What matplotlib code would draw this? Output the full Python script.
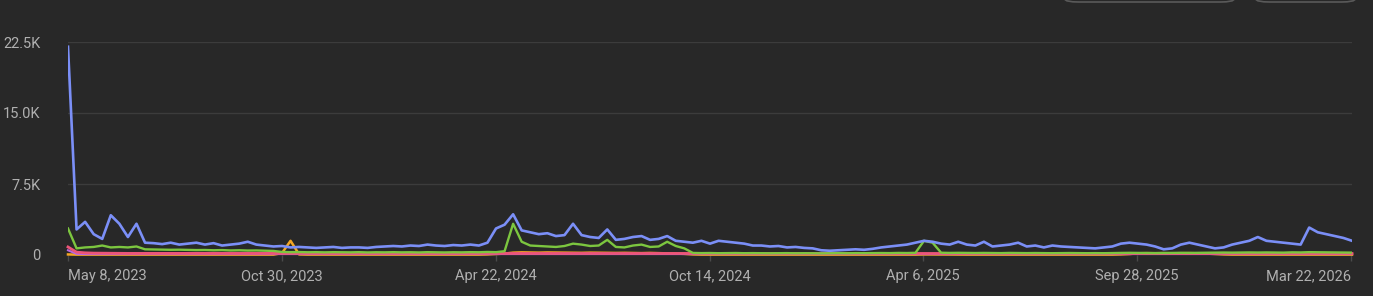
import matplotlib
matplotlib.use("Agg")
import matplotlib.pyplot as plt
from matplotlib.patches import FancyBboxPatch
import pandas as pd

# weekly values (first week = May 8, 2023)
blue = [22000, 2700, 3500, 2200, 1700, 4200, 3300, 1900, 3300, 1300,
        1250, 1150, 1300, 1100, 1200, 1300, 1100, 1250, 1000, 1100,
        1200, 1400, 1100, 1000, 900, 950, 800, 850, 800, 750,
        800, 850, 750, 800, 800, 750, 850, 900, 950, 900,
        1000, 950, 1100, 1000, 950, 1050, 1000, 1100, 1000, 1300,
        2800, 3200, 4300, 2600, 2400, 2200, 2300, 2000, 2100, 3300,
        2100, 1900, 1800, 2700, 1600, 1700, 1900, 2000, 1600, 1700,
        2000, 1500, 1400, 1300, 1500, 1200, 1500, 1400, 1300, 1200,
        1000, 1000, 900, 950, 800, 850, 750, 700, 500, 450,
        500, 550, 600, 550, 650, 800, 900, 1000, 1100, 1300,
        1500, 1400, 1200, 1100, 1400, 1100, 1000, 1400, 900, 1000,
        1100, 1300, 900, 1000, 800, 1000, 900, 850, 800, 750,
        700, 800, 900, 1200, 1300, 1200, 1100, 900, 600, 700,
        1100, 1300, 1100, 900, 700, 800, 1100, 1300, 1500, 1900,
        1500, 1400, 1300, 1200, 1100, 2900, 2400, 2200, 2000, 1800,
        1500]

green = [2800, 700, 800, 850, 1000, 800, 850, 800, 900, 600,
         580, 560, 550, 560, 540, 520, 530, 500, 520, 480,
         500, 470, 480, 450, 430, 320, 300, 310, 290, 300,
         280, 300, 290, 280, 300, 270, 290, 280, 300, 280,
         290, 270, 300, 280, 270, 290, 280, 300, 290, 320,
         300, 400, 3300, 1400, 1000, 950, 900, 850, 950, 1200,
         1100, 950, 1000, 1600, 850, 800, 1000, 1100, 850, 900,
         1400, 950, 700, 220, 200, 210, 190, 200, 210, 190,
         200, 190, 180, 190, 200, 180, 190, 180, 170, 180,
         190, 180, 200, 190, 200, 210, 200, 220, 210, 230,
         1500, 1300, 240, 220, 230, 220, 210, 220, 210, 200,
         220, 210, 200, 210, 200, 190, 200, 210, 200, 190,
         200, 190, 210, 220, 230, 220, 210, 200, 210, 220,
         230, 220, 230, 240, 250, 260, 250, 260, 270, 260,
         270, 260, 250, 280, 270, 300, 290, 280, 270, 260,
         250]

orange = [60, 40, 40, 40, 40, 40, 40, 40, 40, 40,
          40, 40, 40, 40, 40, 40, 40, 40, 40, 40,
          40, 40, 40, 40, 40, 200, 1500, 60, 40, 40,
          40, 40, 40, 40, 40, 40, 40, 40, 40, 40,
          40, 40, 40, 40, 40, 40, 40, 40, 40, 60,
          100, 150, 250, 280, 260, 250, 270, 260, 250, 240,
          230, 250, 240, 230, 220, 230, 210, 200, 220, 200,
          180, 150, 120, 60, 40, 40, 40, 40, 40, 40,
          40, 40, 40, 40, 40, 40, 40, 40, 40, 40,
          40, 40, 40, 40, 40, 40, 40, 40, 40, 40,
          60, 60, 50, 50, 40, 40, 40, 40, 40, 40,
          40, 40, 40, 40, 40, 40, 40, 40, 40, 40,
          40, 40, 40, 60, 100, 180, 200, 190, 200, 180,
          190, 200, 180, 150, 100, 60, 40, 40, 40, 40,
          40, 40, 40, 40, 40, 40, 40, 40, 40, 40,
          40]

purple = [500, 120, 100, 100, 100, 100, 100, 100, 100, 100,
          100, 100, 100, 100, 100, 100, 100, 100, 100, 100,
          100, 100, 100, 100, 100, 100, 100, 100, 100, 100,
          100, 100, 100, 100, 100, 100, 100, 100, 100, 100,
          100, 100, 100, 100, 100, 100, 100, 100, 100, 100,
          100, 100, 110, 110, 100, 100, 100, 100, 100, 100,
          100, 100, 100, 100, 100, 100, 100, 100, 100, 100,
          100, 100, 100, 100, 100, 100, 100, 100, 100, 100,
          100, 100, 100, 100, 100, 100, 100, 100, 100, 100,
          100, 100, 100, 100, 100, 100, 100, 100, 100, 100,
          100, 100, 100, 100, 100, 100, 100, 100, 100, 100,
          100, 100, 100, 100, 100, 100, 100, 100, 100, 100,
          100, 100, 100, 100, 100, 100, 100, 100, 100, 100,
          100, 100, 100, 100, 100, 100, 100, 100, 100, 100,
          100, 100, 100, 100, 100, 100, 100, 100, 100, 100,
          100]

pink = [850, 300, 230, 200, 190, 180, 180, 170, 170, 170,
        170, 160, 160, 160, 160, 160, 160, 160, 160, 160,
        160, 160, 160, 160, 160, 160, 160, 160, 160, 160,
        160, 160, 160, 160, 160, 160, 160, 160, 160, 160,
        160, 160, 160, 160, 160, 160, 160, 160, 160, 160,
        160, 170, 180, 170, 170, 160, 160, 160, 160, 160,
        160, 160, 160, 160, 160, 160, 160, 160, 160, 160,
        160, 160, 160, 160, 160, 160, 160, 160, 160, 160,
        160, 160, 160, 160, 160, 160, 160, 160, 160, 160,
        160, 160, 160, 160, 160, 160, 160, 160, 160, 160,
        160, 160, 160, 160, 160, 160, 160, 160, 160, 160,
        160, 160, 160, 160, 160, 160, 160, 160, 160, 160,
        160, 160, 160, 160, 160, 160, 160, 160, 160, 160,
        160, 160, 160, 160, 160, 160, 160, 160, 160, 160,
        160, 160, 160, 160, 160, 160, 160, 160, 160, 160,
        160]

tick_dates = ["2023-05-08", "2023-10-30", "2024-04-22", "2024-10-14",
              "2025-04-06", "2025-09-28", "2026-03-22"]
tick_labels = ["May 8, 2023", "Oct 30, 2023", "Apr 22, 2024", "Oct 14, 2024",
               "Apr 6, 2025", "Sep 28, 2025", "Mar 22, 2026"]
y_ticks = [0, 7500, 15000, 22500]
y_labels = ["0", "7.5K", "15.0K", "22.5K"]

BG = "#282828"
plt.rcParams["font.family"] = ["Roboto", "DejaVu Sans"]

dates = pd.date_range("2023-05-08", periods=len(blue), freq="7D")

fig = plt.figure(figsize=(13.73, 2.96), dpi=100, facecolor=BG)
ax = fig.add_axes([68 / 1373, 41 / 296, 1284 / 1373, 213 / 296])
ax.set_facecolor(BG)

ax.plot(dates, orange, color="#f5a623", lw=1.8, clip_on=False, zorder=3)
ax.plot(dates, purple, color="#b867e0", lw=1.5, clip_on=False, zorder=3)
ax.plot(dates, pink, color="#ec5578", lw=2.0, clip_on=False, zorder=4)
ax.plot(dates, green, color="#7cc63f", lw=1.7, zorder=5)
ax.plot(dates, blue, color="#7b8ff7", lw=1.9, zorder=6)

ax.set_xlim(pd.Timestamp("2023-05-08"), pd.Timestamp("2026-03-23"))
ax.set_ylim(0, 22500)

ax.set_yticks(y_ticks)
ax.set_yticklabels(y_labels)
ax.set_xticks(pd.to_datetime(tick_dates))
ax.set_xticklabels(tick_labels)
labels = ax.get_xticklabels()
labels[0].set_ha("left")
labels[-1].set_ha("right")

ax.grid(axis="y", color="#3c3c3c", lw=1)
ax.set_axisbelow(True)
for s in ax.spines.values():
    s.set_visible(False)
ax.axhline(0, color="#444444", lw=1, zorder=1)

ax.tick_params(axis="y", length=0, pad=20, labelsize=10.5, labelcolor="#b0b0b0")
ax.tick_params(axis="x", length=4, width=1, color="#4a4a4a", pad=6,
               labelsize=10.5, labelcolor="#b0b0b0")

# partially visible buttons at the top right
for x0, x1 in [(1065, 1234), (1256, 1355)]:
    box = FancyBboxPatch((x0 / 1373, 1 - 2 / 296), (x1 - x0) / 1373, 0.3,
                         boxstyle="round,pad=0,rounding_size=0.01",
                         transform=fig.transFigure, facecolor=BG,
                         edgecolor="#5a5a5a", lw=1.2, clip_on=False)
    fig.patches.append(box)

fig.savefig("out.png", dpi=100, facecolor=BG)
